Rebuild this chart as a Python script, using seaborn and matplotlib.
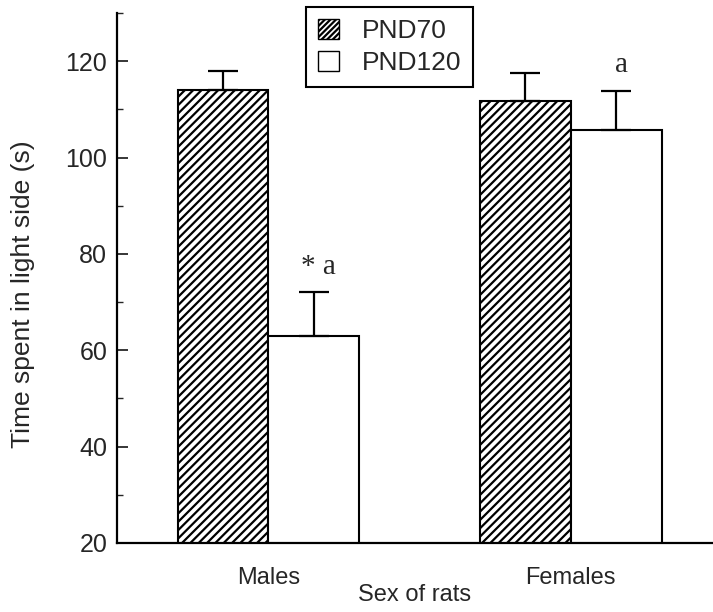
import matplotlib
matplotlib.use("Agg")
import matplotlib.pyplot as plt
import seaborn as sns
import pandas as pd
import numpy as np
from matplotlib.patches import Patch
from matplotlib.ticker import MultipleLocator

# ---- data ----
sexes = ["Males", "Females"]
groups = ["PND70", "PND120"]
pnd70_means = [114.1, 111.7]
pnd120_means = [63.0, 105.7]
pnd70_err = [3.8, 5.8]
pnd120_err = [9.0, 8.2]
annotations = {("Males", "PND120"): "* a", ("Females", "PND120"): "a"}
yticks = [20, 40, 60, 80, 100, 120]

df = pd.DataFrame({
    "sex": sexes * 2,
    "group": [groups[0]] * 2 + [groups[1]] * 2,
    "value": pnd70_means + pnd120_means,
})
errs = {groups[0]: pnd70_err, groups[1]: pnd120_err}

sns.set_style("white")
plt.rcParams["font.family"] = ["Liberation Sans", "DejaVu Sans"]
plt.rcParams["hatch.linewidth"] = 1.6

fig = plt.figure(figsize=(7.13, 6.12), dpi=100)
ax = fig.add_axes([117 / 713, 1 - 543 / 612, 1 - 117 / 713, (543 - 13) / 612])

sns.barplot(data=df, x="sex", y="value", hue="group", order=sexes,
            hue_order=groups, palette=["white", "white"], width=0.6,
            errorbar=None, edgecolor="black", linewidth=1.5, ax=ax,
            legend=False)

hatches = ["////", ""]
for gi, (g, cont) in enumerate(zip(groups, ax.containers)):
    xs = []
    tops = []
    for bar in cont:
        bar.set_hatch(hatches[gi])
        bar.set_edgecolor("black")
        xs.append(bar.get_x() + bar.get_width() / 2)
        tops.append(bar.get_height())
    e = errs[g]
    ax.errorbar(xs, tops, yerr=[np.zeros(len(e)), e], fmt="none",
                ecolor="black", elinewidth=1.6, capsize=11, capthick=1.6)
    for xi, s in enumerate(sexes):
        key = (s, g)
        if key in annotations:
            ax.text(xs[xi] + 0.017, tops[xi] + e[xi] + 3.9, annotations[key],
                    ha="center", va="baseline", fontsize=21,
                    family=["Liberation Serif", "DejaVu Serif"])

ax.set_ylim(20, 130)
ax.set_xlim(-0.5, 1.47)
ax.set_yticks(yticks)
ax.yaxis.set_minor_locator(MultipleLocator(10))
ax.tick_params(axis="y", which="major", direction="in", length=8, width=1.3,
               labelsize=18, pad=7, left=True)
ax.tick_params(axis="y", which="minor", direction="in", length=4, width=1.0,
               left=True)
ax.tick_params(axis="x", which="both", length=0, labelsize=17, pad=17)
for side in ["top", "right"]:
    ax.spines[side].set_visible(False)
for side in ["left", "bottom"]:
    ax.spines[side].set_linewidth(1.6)
    ax.spines[side].set_color("black")

ax.set_xlabel("Sex of rats", fontsize=17, labelpad=-3)
ax.set_ylabel("Time spent in light side (s)", fontsize=19)
ax.yaxis.set_label_coords(-(117 - 23) / 596, (543 - 294) / 530)
ax.yaxis.label.set_va("center")

handles = [Patch(facecolor="white", edgecolor="black", hatch="//////", label=groups[0]),
           Patch(facecolor="white", edgecolor="black", label=groups[1])]
leg = fig.legend(handles=handles, loc="upper left",
                 bbox_to_anchor=(306 / 713, 1 - 7 / 612),
                 bbox_transform=fig.transFigure, frameon=True, fancybox=False,
                 edgecolor="black", framealpha=1, fontsize=19,
                 handlelength=0.8, handleheight=0.8, handletextpad=0.85,
                 borderpad=0.45, labelspacing=0.3, borderaxespad=0)
leg.get_frame().set_linewidth(1.5)

fig.savefig("out.png", dpi=100)
